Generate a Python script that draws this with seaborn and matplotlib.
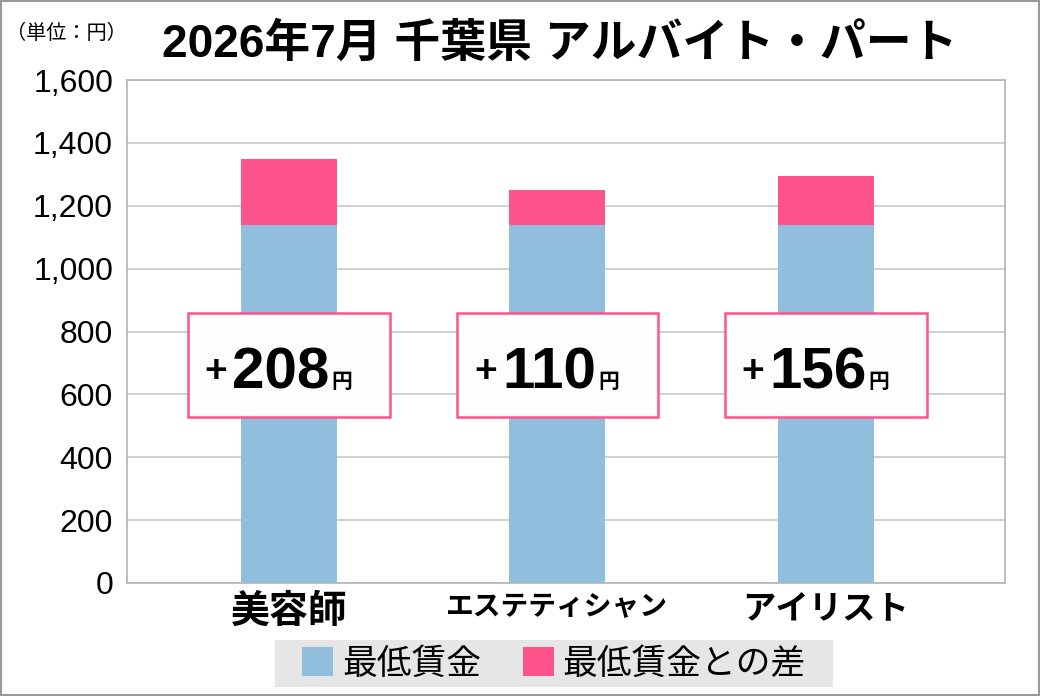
import matplotlib
matplotlib.use("Agg")
import matplotlib.pyplot as plt
from matplotlib.patches import Rectangle, Patch
import seaborn as sns
import pandas as pd

categories = ["美容師", "エステティシャン", "アイリスト"]
min_wage = [1140, 1140, 1140]
diff = [208, 110, 156]
yticks = [0, 200, 400, 600, 800, 1000, 1200, 1400, 1600]
title = "2026年7月 千葉県 アルバイト・パート"
unit_label = "（単位：円）"
legend_labels = ["最低賃金", "最低賃金との差"]

BLUE = "#92bedd"
PINK = "#ff538b"
JP = ["Liberation Sans", "Noto Sans CJK JP", "DejaVu Sans"]

sns.set_theme(style="white")
plt.rcParams["font.family"] = JP
plt.rcParams["text.color"] = "black"
plt.rcParams["xtick.color"] = "black"
plt.rcParams["ytick.color"] = "black"

df = pd.DataFrame({"cat": categories, "base": min_wage,
                   "total": [b + d for b, d in zip(min_wage, diff)]})

fig = plt.figure(figsize=(10.4, 6.96), dpi=100)
ax = fig.add_axes([127/1040, 1-583/696, (1005-127)/1040, (583-80)/696])

sns.barplot(data=df, x="cat", y="total", color=PINK, saturation=1, width=0.357,
            linewidth=0, ax=ax, zorder=2)
sns.barplot(data=df, x="cat", y="base", color=BLUE, saturation=1, width=0.357,
            linewidth=0, ax=ax, zorder=3)

ax.set_xlim(-0.603, 2.667)
ax.set_ylim(0, 1600)
ax.set_yticks(yticks)
ax.set_yticklabels([f"{v:,}" for v in yticks], fontsize=23, family=JP)
ax.set_xticks(range(len(categories)))
ax.set_xticklabels(categories, fontweight="bold", family=JP)
for lab, fs in zip(ax.get_xticklabels(), [28, 20, 24]):
    lab.set_fontsize(fs)
ax.set_xlabel("")
ax.set_ylabel("")
ax.tick_params(axis="y", length=0, pad=10)
ax.tick_params(axis="x", length=0, pad=8)
ax.yaxis.grid(True, color="#c8c8c8", linewidth=1.2, zorder=0)
ax.set_axisbelow(True)
for s in ax.spines.values():
    s.set_color("#b4b4b4")
    s.set_linewidth(1.2)

# label boxes
box_w = 0.75
box_h = 331
box_cy = 693
num_base = 620
plus_cy = 671
fig.canvas.draw()
inv = ax.transData.inverted()
for i, d in enumerate(diff):
    ax.add_patch(Rectangle((i - box_w/2, box_cy - box_h/2), box_w, box_h,
                           facecolor="#fdfdfd", edgecolor=PINK, linewidth=1.8, zorder=5))
    t = ax.text(i - 0.03, num_base, f"{d}", fontsize=42, fontweight="bold",
                ha="center", va="baseline", family=JP, zorder=6)
    fig.canvas.draw()
    bb = t.get_window_extent()
    xl, _ = inv.transform((bb.x0 - 5, 0))
    xr, _ = inv.transform((bb.x1 + 2, 0))
    ax.text(xl, plus_cy, "+", fontsize=28, fontweight="bold",
            ha="right", va="center", family=JP, zorder=6)
    ax.text(xr, num_base, "円", fontsize=15, fontweight="bold",
            ha="left", va="baseline", family=JP, zorder=6)

fig.text(560/1040, 1-45/696, title, fontsize=33, fontweight="bold",
         ha="center", va="center", family=JP)
fig.text(66/1040, 1-33/696, unit_label, fontsize=14.5, ha="center", va="center", family=JP)

# legend background
fig.patches.append(Rectangle((275/1040, 1-687/696), (833-275)/1040, 47/696,
                             transform=fig.transFigure, facecolor="#e6e6e6",
                             edgecolor="none", zorder=1))
handles = [Patch(facecolor=BLUE, edgecolor="none"), Patch(facecolor=PINK, edgecolor="none")]
leg = fig.legend(handles, legend_labels, loc="center", bbox_to_anchor=(554/1040, 1-664/696),
                 ncol=2, frameon=False, handlelength=0.9, handleheight=0.9,
                 handletextpad=0.25, columnspacing=1.2, borderpad=0.2,
                 prop={"family": JP, "size": 25})

fig.patches.append(Rectangle((0.001, 0.001), 0.998, 0.997, transform=fig.transFigure,
                             fill=False, edgecolor="#999999", linewidth=1.5))

fig.savefig("out.png", dpi=100)
